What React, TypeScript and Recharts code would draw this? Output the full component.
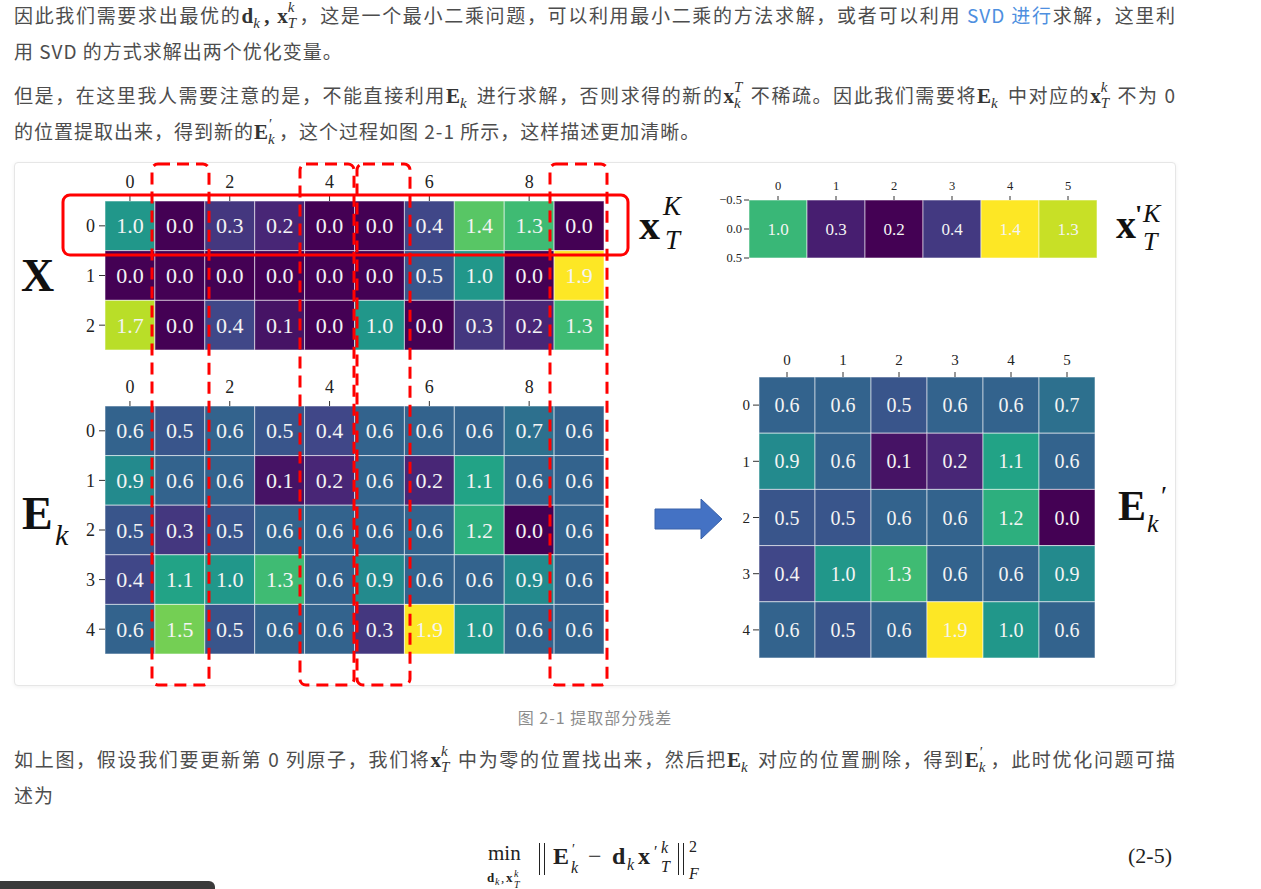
import React from 'react';
import { Scatter, ScatterChart, XAxis, YAxis } from 'recharts';

const SERIF = '"Liberation Serif", "Times New Roman", serif';
const SANS = '"Noto Sans CJK SC", "Noto Sans", sans-serif';
const TEXT = '#4d4d4d';

// tick labels
const WIDE_COL_TICKS = [0, 2, 4, 6, 8];
const X_ROW_TICKS = [0, 1, 2];
const E_ROW_TICKS = [0, 1, 2, 3, 4];
const NARROW_COL_TICKS = [0, 1, 2, 3, 4, 5];
const XP_ROW_TICKS = [-0.5, 0, 0.5];

// X (3 x 10)
const X_ROW0 = [1.0, 0.0, 0.3, 0.2, 0.0, 0.0, 0.4, 1.4, 1.3, 0.0];
const X_ROW1 = [0.0, 0.0, 0.0, 0.0, 0.0, 0.0, 0.5, 1.0, 0.0, 1.9];
const X_ROW2 = [1.7, 0.0, 0.4, 0.1, 0.0, 1.0, 0.0, 0.3, 0.2, 1.3];

// E_k (5 x 10)
const E_ROW0 = [0.6, 0.5, 0.6, 0.5, 0.4, 0.6, 0.6, 0.6, 0.7, 0.6];
const E_ROW1 = [0.9, 0.6, 0.6, 0.1, 0.2, 0.6, 0.2, 1.1, 0.6, 0.6];
const E_ROW2 = [0.5, 0.3, 0.5, 0.6, 0.6, 0.6, 0.6, 1.2, 0.0, 0.6];
const E_ROW3 = [0.4, 1.1, 1.0, 1.3, 0.6, 0.9, 0.6, 0.6, 0.9, 0.6];
const E_ROW4 = [0.6, 1.5, 0.5, 0.6, 0.6, 0.3, 1.9, 1.0, 0.6, 0.6];

// x'_T (1 x 6)
const XP_ROW0 = [1.0, 0.3, 0.2, 0.4, 1.4, 1.3];

// E'_k (5 x 6)
const EP_ROW0 = [0.6, 0.6, 0.5, 0.6, 0.6, 0.7];
const EP_ROW1 = [0.9, 0.6, 0.1, 0.2, 1.1, 0.6];
const EP_ROW2 = [0.5, 0.5, 0.6, 0.6, 1.2, 0.0];
const EP_ROW3 = [0.4, 1.0, 1.3, 0.6, 0.6, 0.9];
const EP_ROW4 = [0.6, 0.5, 0.6, 1.9, 1.0, 0.6];

const VIRIDIS = [
  '#440154', '#482475', '#414487', '#355f8d', '#2a788e', '#21918c',
  '#22a884', '#44bf70', '#7ad151', '#bddf26', '#fde725',
];

function hexToRgb(h: string) {
  return [1, 3, 5].map((i) => parseInt(h.slice(i, i + 2), 16));
}

function viridis(t: number): string {
  const c = Math.min(1, Math.max(0, t)) * (VIRIDIS.length - 1);
  const i = Math.min(VIRIDIS.length - 2, Math.floor(c));
  const f = c - i;
  const a = hexToRgb(VIRIDIS[i]);
  const b = hexToRgb(VIRIDIS[i + 1]);
  const m = a.map((v, k) => Math.round(v + (b[k] - v) * f));
  return `rgb(${m[0]},${m[1]},${m[2]})`;
}

interface HeatmapProps {
  rows: number[][];
  left: number;
  top: number;
  plotW: number;
  plotH: number;
  padL: number;
  padT: number;
  colTicks: number[];
  rowTicks: number[];
  yDomain?: [number, number];
  vmin: number;
  vmax: number;
  valueFont: number;
  tickFont: number;
  xTick: [number, number];
  yTick: [number, number];
  rowFmt?: (v: number) => string;
}

function Heatmap(p: HeatmapProps) {
  const nRows = p.rows.length;
  const nCols = p.rows[0].length;
  const cw = p.plotW / nCols;
  const ch = p.plotH / nRows;
  const cells = p.rows.flatMap((r, ri) => r.map((v, ci) => ({ col: ci, row: ri, v })));
  const padR = 4;
  const padB = 12;
  const tickStyle = { fontSize: p.tickFont, fill: '#222', fontFamily: SERIF };
  return (
    <div style={{ position: 'absolute', left: p.left - p.padL, top: p.top - p.padT }}>
      <ScatterChart
        width={p.padL + p.plotW + padR}
        height={p.padT + p.plotH + padB}
        margin={{ top: 0, right: padR, bottom: padB, left: 0 }}
      >
        <XAxis
          type="number"
          dataKey="col"
          orientation="top"
          domain={[-0.5, nCols - 0.5]}
          ticks={p.colTicks}
          interval={0}
          height={p.padT}
          axisLine={false}
          tickLine={{ stroke: '#333' }}
          tickSize={p.xTick[0]}
          tickMargin={p.xTick[1]}
          tick={tickStyle}
          allowDataOverflow
        />
        <YAxis
          type="number"
          dataKey="row"
          reversed
          domain={p.yDomain ?? [-0.5, nRows - 0.5]}
          ticks={p.rowTicks}
          interval={0}
          width={p.padL}
          axisLine={false}
          tickLine={{ stroke: '#333' }}
          tickSize={p.yTick[0]}
          tickMargin={p.yTick[1]}
          tick={tickStyle}
          tickFormatter={p.rowFmt ?? ((v: number) => String(v))}
          allowDataOverflow
        />
        <Scatter
          data={cells}
          isAnimationActive={false}
          shape={(s: any) => (
            <g>
              <rect
                x={s.cx - cw / 2}
                y={s.cy - ch / 2}
                width={cw}
                height={ch}
                fill={viridis((s.payload.v - p.vmin) / (p.vmax - p.vmin))}
                stroke="#ffffff"
                strokeOpacity={0.55}
                strokeWidth={1}
              />
              <text
                x={s.cx}
                y={s.cy}
                textAnchor="middle"
                dominantBaseline="central"
                fill="#f4f4f4"
                fontFamily={SERIF}
                fontSize={p.valueFont}
              >
                {s.payload.v.toFixed(1)}
              </text>
            </g>
          )}
        />
      </ScatterChart>
    </div>
  );
}

// glyph placed by its baseline
function G({ x, y, size, bold, italic, children, color = '#111' }: any) {
  return (
    <div
      style={{
        position: 'absolute',
        left: x,
        top: y - 0.84 * size,
        fontFamily: SERIF,
        fontSize: size,
        lineHeight: 1,
        fontWeight: bold ? 700 : 400,
        fontStyle: italic ? 'italic' : 'normal',
        color,
        whiteSpace: 'nowrap',
      }}
    >
      {children}
    </div>
  );
}

// inline math symbol: bold base with sub / sup
function M({ b, sub, sup, prime }: { b: string; sub?: string; sup?: string; prime?: boolean }) {
  return (
    <span style={{ fontFamily: SERIF, color: '#333', whiteSpace: 'nowrap', letterSpacing: 0 }}>
      <span style={{ fontWeight: 700, fontSize: 21 }}>{b}</span>
      <span style={{ display: 'inline-block', position: 'relative', width: 11, height: 20 }}>
        {prime && (
          <span style={{ position: 'absolute', left: 1, top: -1, fontSize: 15, lineHeight: '13px' }}>′</span>
        )}
        {sup && (
          <span style={{ position: 'absolute', left: 0, top: -3, fontSize: 15, fontStyle: 'italic', lineHeight: '14px' }}>
            {sup}
          </span>
        )}
        {sub && (
          <span style={{ position: 'absolute', left: 0, top: 13, fontSize: 15, fontStyle: 'italic', lineHeight: '14px' }}>
            {sub}
          </span>
        )}
      </span>
    </span>
  );
}

function Line({ cy, full, children }: { cy: number; full?: boolean; children: React.ReactNode }) {
  return (
    <div
      style={{
        position: 'absolute',
        left: 14,
        top: cy - 18,
        width: 1162,
        height: 36,
        lineHeight: '36px',
        fontFamily: SANS,
        fontSize: 19,
        letterSpacing: 1,
        color: TEXT,
        whiteSpace: 'nowrap',
        textAlign: 'left',
        textAlignLast: full ? 'justify' : 'left',
      }}
    >
      {children}
    </div>
  );
}

function Bars({ x, top, h }: { x: number; top: number; h: number }) {
  return (
    <>
      <div style={{ position: 'absolute', left: x, top, width: 1.4, height: h, background: '#222' }} />
      <div style={{ position: 'absolute', left: x + 5, top, width: 1.4, height: h, background: '#222' }} />
    </>
  );
}

export default function App() {
  return (
    <div style={{ position: 'absolute', left: 0, top: 0, width: 1261, height: 889, background: '#fff', overflow: 'hidden' }}>
      <Line cy={15} full>
        因此我们需要求出最优的<M b="d" sub="k" />
        <span style={{ fontFamily: SERIF, fontWeight: 700, fontSize: 21, color: '#333' }}>, </span>
        <M b="x" sub="T" sup="k" />，这是一个最小二乘问题，可以利用最小二乘的方法求解，或者可以利用 <span style={{ color: '#4e8fe0' }}>SVD 进行</span>求解，这里利
      </Line>
      <Line cy={51}>用 SVD 的方式求解出两个优化变量。</Line>
      <Line cy={95} full>
        但是，在这里我人需要注意的是，不能直接利用<M b="E" sub="k" /> 进行求解，否则求得的新的<M b="x" sub="k" sup="T" /> 不稀疏。因此我们需要将<M b="E" sub="k" /> 中对应的<M b="x" sub="T" sup="k" /> 不为 0
      </Line>
      <Line cy={131}>
        的位置提取出来，得到新的<M b="E" sub="k" prime />，这个过程如图 2-1 所示，这样描述更加清晰。
      </Line>

      {/* figure card */}
      <div
        style={{
          position: 'absolute',
          left: 14,
          top: 162,
          width: 1160,
          height: 522,
          border: '1px solid #e6e6e6',
          borderRadius: 4,
          boxShadow: '0 1px 4px rgba(0,0,0,0.06)',
          background: '#fff',
        }}
      />

      <Heatmap
        rows={[X_ROW0, X_ROW1, X_ROW2]}
        left={105}
        top={201}
        plotW={499}
        plotH={149}
        padL={40}
        padT={36}
        colTicks={WIDE_COL_TICKS}
        rowTicks={X_ROW_TICKS}
        vmin={0}
        vmax={1.9}
        valueFont={22}
        tickFont={18}
        xTick={[5, 8]}
        yTick={[6, 4]}
      />
      <Heatmap
        rows={[E_ROW0, E_ROW1, E_ROW2, E_ROW3, E_ROW4]}
        left={105}
        top={406}
        plotW={499}
        plotH={248}
        padL={40}
        padT={36}
        colTicks={WIDE_COL_TICKS}
        rowTicks={E_ROW_TICKS}
        vmin={0}
        vmax={1.9}
        valueFont={22}
        tickFont={18}
        xTick={[5, 8]}
        yTick={[6, 4]}
      />
      <Heatmap
        rows={[XP_ROW0]}
        left={749}
        top={200}
        plotW={348}
        plotH={58}
        padL={40}
        padT={28}
        colTicks={NARROW_COL_TICKS}
        rowTicks={XP_ROW_TICKS}
        yDomain={[-0.5, 0.5]}
        vmin={0.2}
        vmax={1.4}
        valueFont={17}
        tickFont={12.5}
        xTick={[4, 6]}
        yTick={[5, 2]}
        rowFmt={(v: number) => (v < 0 ? '\u2212' + Math.abs(v).toFixed(1) : v.toFixed(1))}
      />
      <Heatmap
        rows={[EP_ROW0, EP_ROW1, EP_ROW2, EP_ROW3, EP_ROW4]}
        left={759}
        top={377}
        plotW={336}
        plotH={281}
        padL={30}
        padT={32}
        colTicks={NARROW_COL_TICKS}
        rowTicks={E_ROW_TICKS}
        vmin={0}
        vmax={1.9}
        valueFont={20}
        tickFont={15}
        xTick={[5, 7]}
        yTick={[6, 3]}
      />

      {/* matrix names */}
      <G x={21} y={292} size={46} bold>X</G>
      <G x={22} y={530} size={46} bold>E</G>
      <G x={55} y={545} size={30} italic>k</G>

      <G x={639} y={239} size={42} bold>x</G>
      <G x={663} y={216} size={27} italic>K</G>
      <G x={665} y={250} size={27} italic>T</G>

      <G x={1116} y={239} size={40} bold>x</G>
      <G x={1135} y={224} size={26} bold>'</G>
      <G x={1143} y={223} size={26} italic>K</G>
      <G x={1143} y={251} size={26} italic>T</G>

      <G x={1118} y={520} size={42} bold>E</G>
      <G x={1147} y={533} size={26} italic>k</G>
      <G x={1161} y={506} size={28}>′</G>

      {/* annotations */}
      <svg width={1261} height={889} style={{ position: 'absolute', left: 0, top: 0, pointerEvents: 'none' }}>
        <rect x={63} y={195} width={565} height={60} rx={7} fill="none" stroke="#ff0000" strokeWidth={3} />
        {[
          [152, 57],
          [300, 54],
          [357, 53],
          [550, 57],
        ].map(([x, w]) => (
          <rect
            key={x}
            x={x}
            y={164}
            width={w}
            height={521}
            rx={6}
            fill="none"
            stroke="#ff0000"
            strokeWidth={3}
            strokeDasharray="12 7"
          />
        ))}
        <polygon
          points="655,509 701,509 701,499 722,519 701,539 701,529 655,529"
          fill="#4472c4"
          stroke="#3a62aa"
          strokeWidth={1}
        />
      </svg>

      {/* caption */}
      <div
        style={{
          position: 'absolute',
          left: 0,
          width: 1190,
          top: 705,
          textAlign: 'center',
          fontFamily: SANS,
          fontSize: 16,
          letterSpacing: 1,
          lineHeight: '24px',
          color: '#8c8c8c',
        }}
      >
        图 2-1 提取部分残差
      </div>

      <Line cy={759} full>
        如上图，假设我们要更新第 0 列原子，我们将<M b="x" sub="T" sup="k" /> 中为零的位置找出来，然后把<M b="E" sub="k" /> 对应的位置删除，得到<M b="E" sub="k" prime />，此时优化问题可描
      </Line>
      <Line cy={795}>述为</Line>

      {/* formula (2-5) */}
      <G x={488} y={861} size={21} color="#222">min</G>
      <G x={487} y={882} size={13} bold color="#222">d</G>
      <G x={495} y={885} size={10} italic color="#222">k</G>
      <G x={501} y={882} size={13} color="#222">,</G>
      <G x={506} y={882} size={13} bold color="#222">x</G>
      <G x={514} y={877} size={10} italic color="#222">k</G>
      <G x={514} y={888} size={10} italic color="#222">T</G>
      <Bars x={539} top={843} h={32} />
      <G x={553} y={864} size={24} bold color="#222">E</G>
      <G x={572} y={855} size={14} color="#222">′</G>
      <G x={571} y={873} size={16} italic color="#222">k</G>
      <G x={588} y={864} size={24} color="#222">−</G>
      <G x={612} y={864} size={24} bold color="#222">d</G>
      <G x={627} y={870} size={16} italic color="#222">k</G>
      <G x={638} y={864} size={24} bold color="#222">x</G>
      <G x={654} y={857} size={16} color="#222">′</G>
      <G x={661} y={853} size={16} italic color="#222">k</G>
      <G x={661} y={872} size={16} italic color="#222">T</G>
      <Bars x={678} top={843} h={32} />
      <G x={689} y={852} size={16} color="#222">2</G>
      <G x={689} y={879} size={16} italic color="#222">F</G>
      <G x={1128} y={863} size={22} color="#222">(2-5)</G>

      <div
        style={{
          position: 'absolute',
          left: 0,
          top: 881,
          width: 215,
          height: 12,
          background: '#3a3a3a',
          borderTopRightRadius: 6,
        }}
      />
    </div>
  );
}
